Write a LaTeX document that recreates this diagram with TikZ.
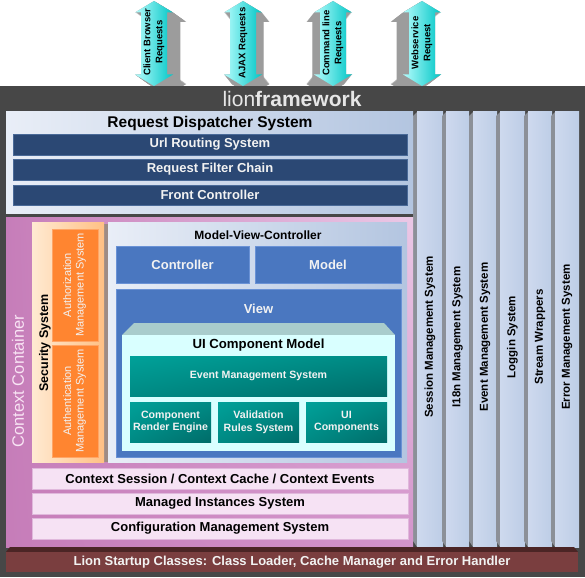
\documentclass[tikz,border=0pt]{standalone}
\usepackage{fontspec}
\setmainfont{Liberation Sans}
\usetikzlibrary{shadings}
\newcommand{\fz}[2]{\fontsize{#1}{#2}\selectfont}
\definecolor{framegray}{HTML}{474747}
\definecolor{extgray}{HTML}{9C9C9C}
\definecolor{cyanL}{HTML}{B4FCFC}
\definecolor{cyanR}{HTML}{00C6C6}
\definecolor{navy}{HTML}{2B4874}
\definecolor{navyB}{HTML}{4A6A98}
\definecolor{rdL}{HTML}{E9EEF7}
\definecolor{rdR}{HTML}{B3C5E0}
\definecolor{pinkL}{HTML}{C67DB9}
\definecolor{pinkR}{HTML}{EBC8E6}
\definecolor{pinkM}{HTML}{D394CB}
\definecolor{peachL}{HTML}{FFEAD2}
\definecolor{peachR}{HTML}{FFC084}
\definecolor{orng}{HTML}{FF8530}
\definecolor{orngB}{HTML}{FFA566}
\definecolor{mvcblue}{HTML}{4A77C0}
\definecolor{mvcB}{HTML}{6A92D6}
\definecolor{uiface}{HTML}{D9FFFF}
\definecolor{uitop}{HTML}{A9CCCC}
\definecolor{tealA}{HTML}{00A199}
\definecolor{tealM}{HTML}{008A84}
\definecolor{tealB}{HTML}{006C69}
\definecolor{rowfill}{HTML}{F6E2F4}
\definecolor{rowB}{HTML}{E0B8DC}
\definecolor{barL}{HTML}{CED9EE}
\definecolor{barR}{HTML}{BDCDE6}
\definecolor{barsh}{HTML}{8C9098}
\definecolor{lionbar}{HTML}{7A3E3F}
\definecolor{liontop}{HTML}{4B2525}
\definecolor{cctxt}{HTML}{F8E4F4}
\definecolor{secsh}{HTML}{9E8C84}
\definecolor{wtext}{HTML}{F2F2F2}
\definecolor{lionw}{HTML}{E6E6E6}
\tikzset{
  arrowp/.style={insert path={(#1,1) -- ++(19,11.5) -- ++(-6,0) -- ++(0,62) -- ++(6,0)
     -- ++(-19,11.5) -- ++(-19,-11.5) -- ++(6,0) -- ++(0,-62) -- ++(-6,0) -- cycle}},
  arrtxt/.style={rotate=90, inner sep=0pt, align=center, font=\fz{9.5}{12}\bfseries},
  wtxt/.style={inner sep=0pt, align=center, text=wtext, font=\fz{13}{15}\bfseries},
  btxt/.style={inner sep=0pt, align=center, text=black, font=\fz{13}{15}\bfseries},
  bartxt/.style={rotate=90, inner sep=0pt, text=black, font=\fz{11.5}{13}\bfseries},
  navybar/.style={fill=navy, draw=navyB, line width=0.8pt},
  bluebox/.style={fill=mvcblue, draw=mvcB, line width=0.8pt},
  tealbox/.style={upper left=tealA, upper right=tealM, lower left=tealM, lower right=tealB},
  rowbox/.style={fill=rowfill, draw=rowB, line width=1pt},
  orngbox/.style={fill=orng, draw=orngB, line width=0.8pt},
}
\begin{document}
\begin{tikzpicture}[x=1pt,y=-1pt]
\useasboundingbox (0,0) rectangle (585,577);
% ---- request arrows
\foreach \cx/\dx in {154/14, 243/8, 333/-8, 422/-13}{
  \foreach \t in {0,0.05,...,1.0}{
    \fill[extgray, shift={({\t*(\dx)},{\t*10})}, arrowp=\cx];
  }
  \shade[left color=cyanL, right color=cyanR, arrowp=\cx];
}
\node[arrtxt] (a1) at (154,42) {Client Browser\\Requests};
\node[arrtxt] (a2) at (243,43) {AJAX Requests};
\node[arrtxt] (a3) at (333,43) {Command line\\Requests};
\node[arrtxt] (a4) at (422,43) {Webservice\\Request};
% ---- frame
\fill[framegray] (0,86) rectangle (585,577);
\node[inner sep=0pt, text=lionw, font=\fz{21}{24}] (lf) at (292,99) {lion\textbf{framework}};
% ---- right vertical bars
\foreach \xa/\xb in {417/443, 446/469, 473/497, 500/525, 528/552, 555/579}{
  \fill[barsh] (\xa-4,116) -- (\xa,112) -- (\xa,547) -- (\xa-4,541) -- cycle;
  \shade[left color=barL, right color=barR] (\xa,112) rectangle (\xb,547);
}
\node[bartxt] (b1) at (430,337) {Session Management System};
\node[bartxt] (b2) at (457.5,337) {I18n Management System};
\node[bartxt] (b3) at (485,337) {Event Management System};
\node[bartxt] (b4) at (512.5,337) {Loggin System};
\node[bartxt] (b5) at (540,337) {Stream Wrappers};
\node[bartxt] (b6) at (567,337) {Error Management System};
% ---- request dispatcher
\shade[left color=rdL, right color=rdR] (6,112) rectangle (413,213);
\node[btxt, font=\fz{15.5}{18}\bfseries] (rds) at (210,123) {Request Dispatcher System};
\draw[navybar] (13,134) rectangle (407,155);
\draw[navybar] (13,159) rectangle (407,180);
\draw[navybar] (13,185) rectangle (407,205);
\node[wtxt] (url) at (210,144.5) {Url Routing System};
\node[wtxt] (rfc) at (210,169.5) {Request Filter Chain};
\node[wtxt] (fc) at (210,195) {Front Controller};
% ---- context container
\shade[upper left=pinkL, lower left=pinkL, upper right=pinkR, lower right=pinkM] (6,217) rectangle (413,547);
\node[rotate=90, inner sep=0pt, text=cctxt, font=\fz{16.5}{19}] (cc) at (18,381) {Context Container};
% security
\fill[secsh] (104,224) rectangle (108,462);
\shade[left color=peachL, right color=peachR] (32,222) rectangle (104,462);
\node[rotate=90, inner sep=0pt, font=\fz{12.5}{15}\bfseries] (sec) at (45,343) {Security System};
\draw[orngbox] (52,229) rectangle (98,341);
\draw[orngbox] (52,345) rectangle (98,457);
\node[rotate=90, inner sep=0pt, align=center, text=wtext, font=\fz{11}{12.5}] (authz) at (74.5,285) {Authorization\\Management System};
\node[rotate=90, inner sep=0pt, align=center, text=wtext, font=\fz{11}{12.5}] (authn) at (74.5,401) {Authentication\\Management System};
% MVC
\shade[left color=rdL, right color=rdR] (108,222) rectangle (407,462);
\node[btxt, font=\fz{12}{14}\bfseries] (mvc) at (258,235) {Model-View-Controller};
\draw[bluebox] (116,246) rectangle (249,283);
\draw[bluebox] (255,246) rectangle (401,283);
\node[wtxt] (ctl) at (182.5,264.5) {Controller};
\node[wtxt] (mdl) at (328,264.5) {Model};
\draw[bluebox] (116,289) rectangle (401,457);
\node[wtxt] (view) at (258.5,309) {View};
% UI component model
\fill[uitop] (122,335) -- (134,323) -- (384,323) -- (395,335) -- cycle;
\fill[uiface] (122,335) rectangle (395,451);
\node[btxt, font=\fz{13.2}{15}\bfseries] (uicm) at (258.5,345.5) {UI Component Model};
\shade[tealbox] (130,356) rectangle (387,396);
\node[wtxt, font=\fz{10.6}{12.7}\bfseries] (ems) at (258.5,376) {Event Management System};
\shade[tealbox] (130,402) rectangle (211,442);
\shade[tealbox] (218,402) rectangle (299,442);
\shade[tealbox] (306,402) rectangle (387,442);
\node[wtxt, font=\fz{10.6}{12.7}\bfseries] (cre) at (170.5,422) {Component\\Render Engine};
\node[wtxt, font=\fz{10.6}{12.7}\bfseries] (vrs) at (258.5,422) {Validation\\Rules System};
\node[wtxt, font=\fz{10.6}{12.7}\bfseries] (uic) at (346.5,422) {UI\\Components};
% context rows
\draw[rowbox] (32,468) rectangle (408,489);
\draw[rowbox] (32,493) rectangle (408,514);
\draw[rowbox] (32,518) rectangle (408,539);
\node[btxt] (r1) at (220,478.5) {Context Session / Context Cache / Context Events};
\node[btxt] (r2) at (220,503.5) {Managed Instances System};
\node[btxt] (r3) at (220,528.5) {Configuration Management System};
% ---- lion startup bar
\fill[liontop] (6,552) -- (10,547) -- (574,547) -- (578,552) -- cycle;
\fill[lionbar] (6,552) rectangle (578,572);
\node[wtxt] (lion) at (292,562) {Lion Startup Classes: Class Loader, Cache Manager and Error Handler};
\end{tikzpicture}
\end{document}
